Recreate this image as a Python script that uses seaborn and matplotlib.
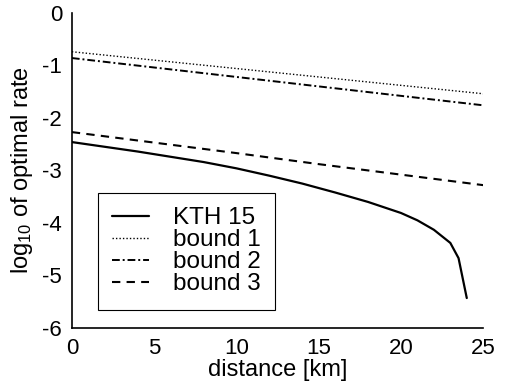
import numpy as np
import pandas as pd
import matplotlib
matplotlib.use("Agg")
import matplotlib.pyplot as plt
import seaborn as sns

# data
kth_x = [0, 2, 4, 6, 8, 10, 12, 14, 16, 18, 20, 21, 22, 23, 23.5, 24]
kth_y = [-2.46, -2.55, -2.64, -2.74, -2.84, -2.96, -3.10, -3.25, -3.42, -3.60, -3.81, -3.95, -4.13, -4.38, -4.67, -5.43]
bound_x = [0, 5, 10, 15, 20, 25]
bound1_y = [-0.74, -0.90, -1.06, -1.22, -1.38, -1.54]
bound2_y = [-0.86, -1.04, -1.22, -1.40, -1.58, -1.76]
bound3_y = [-2.27, -2.47, -2.67, -2.88, -3.08, -3.28]
labels = ["KTH 15", "bound 1", "bound 2", "bound 3"]
xticks = [0, 5, 10, 15, 20, 25]
yticks = [0, -1, -2, -3, -4, -5, -6]

sns.set_theme(style="white")
plt.rcParams['font.family'] = ['Liberation Sans', 'DejaVu Sans']
plt.rcParams['mathtext.default'] = 'regular'
plt.rcParams['text.color'] = 'black'

fig = plt.figure(figsize=(5.06, 3.90), dpi=100)
ax = fig.add_axes([0.142, 0.159, 0.813, 0.808])

series = [
    (kth_x, kth_y, labels[0], '-', 1.6),
    (bound_x, bound1_y, labels[1], (0, (1, 1.5)), 1.0),
    (bound_x, bound2_y, labels[2], (0, (4, 1.5, 1, 1.5)), 1.4),
    (bound_x, bound3_y, labels[3], (0, (4, 3)), 1.5),
]
for xs, ys, lab, ls, lw in series:
    df = pd.DataFrame({"x": xs, "y": ys})
    sns.lineplot(data=df, x="x", y="y", ax=ax, color="black", linestyle=ls,
                 linewidth=lw, label=lab)

ax.set_xlim(0, 25)
ax.set_ylim(-6, 0)
ax.set_xticks(xticks)
ax.set_yticks(yticks)
ax.set_xticklabels([str(t) for t in xticks])
ax.set_yticklabels([str(t) for t in yticks])
ax.tick_params(direction='in', length=4, width=1, colors='black', labelsize=16, pad=7)
for s in ['top', 'right']:
    ax.spines[s].set_visible(False)
for s in ['left', 'bottom']:
    ax.spines[s].set_color('black')
    ax.spines[s].set_linewidth(1.2)
ax.set_xlabel("distance [km]", fontsize=17, color='black', labelpad=0)
ax.set_ylabel(r"log$_{10}$ of optimal rate", fontsize=17, color='black', labelpad=5)

leg = ax.legend(loc='lower left', bbox_to_anchor=(0.063, 0.057), borderaxespad=0,
                fontsize=17.5, frameon=True, fancybox=False, edgecolor='black',
                framealpha=1, handlelength=1.5, handletextpad=1.0, borderpad=0.6,
                labelspacing=0.0)
leg.get_frame().set_linewidth(0.8)
for t in leg.get_texts():
    t.set_color('black')

fig.savefig("out.png", dpi=100)
